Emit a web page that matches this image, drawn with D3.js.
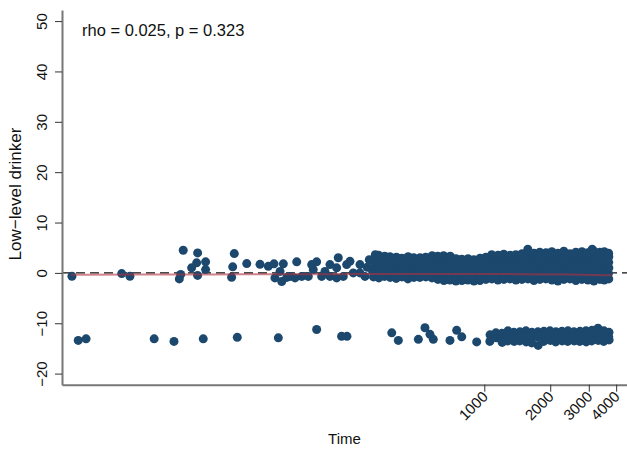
<!DOCTYPE html>
<html>
<head>
<meta charset="utf-8">
<script src="https://cdn.jsdelivr.net/npm/d3@7"></script>
<style>
  html, body { margin: 0; padding: 0; background: #fff; }
  svg { display: block; font-family: "Liberation Sans", Arial, Helvetica, sans-serif; }
</style>
</head>
<body>
<svg id="chart" width="627" height="450"></svg>
<script>
// Tick values and text
const yTicks = [-20, -10, 0, 10, 20, 30, 40, 50];
const xTicks = [1000, 2000, 3000, 4000];
const xLabel = "Time";
const yLabel = "Low\u2212level drinker";
const statsText = "rho = 0.025, p = 0.323";

// Early observations, main band [time, value]
const earlyUpper = [
  [13.1, -0.67], [22.1, -0.14], [24.1, -0.67], [40.5, -1.2], [41.1, -0.3], [42.2, 4.5],
  [46.1, 1.0], [48.6, 2.0], [49.1, 3.97], [49.1, -0.5], [53.4, 2.2], [53.4, 0.65],
  [70.2, -0.87], [71.0, 1.2], [72.2, 3.83], [82.3, 1.85], [94.6, 1.7], [103.2, 1.3],
  [109.6, 1.8], [110.7, -1.0], [116.8, 0.3], [118.9, -1.7], [120.9, 1.8], [125.3, -0.9],
  [129.7, -0.7], [136.7, -1.0], [139.2, 2.2], [146.7, -0.7], [157.2, -0.7], [162.9, 1.65],
  [165.6, 0.65], [171.6, 2.2], [180.9, -0.7], [187.3, 0.3], [197.4, 1.65], [197.4, -0.7],
  [211.8, 1.0], [211.8, -1.0], [215.4, 3.0], [227.1, -0.7], [235.3, 1.65], [243.6, 2.3],
  [252.2, 0.0], [270.6, 1.65], [270.6, 0.0], [285.3, -0.7], [292.0, 1.1], [298.5, 2.6]
];

// Later observations, main band [time, value]
const laterUpper = [
  [312, -0.8], [309, 0.3], [315, 1.4], [311, 2.6], [318, 3.6],
  [330, -1.0], [333, 0.1], [328, 1.2], [331, 2.3], [329, 3.5],
  [350, -0.7], [347, 0.4], [352, 1.5], [349, 2.5], [351, 3.3],
  [372, -0.9], [375, 0.2], [370, 1.3], [373, 2.4], [371, 3.2],
  [396, -1.1], [393, 0.0], [398, 1.1], [395, 2.2], [397, 3.1],
  [421, -0.8], [424, 0.3], [419, 1.4], [422, 2.5], [420, 2.9],
  [448, -1.2], [445, -0.1], [450, 1.0], [447, 2.1], [449, 3.2],
  [477, -0.9], [480, 0.1], [475, 1.2], [478, 2.2], [476, 3.0],
  [508, -0.9], [505, 0.2], [511, 1.3], [507, 2.3], [509, 3.0],
  [541, -0.8], [544, 0.3], [538, 1.3], [542, 2.4], [540, 3.1],
  [577, -1.0], [574, 0.1], [580, 1.2], [576, 2.3], [578, 3.4],
  [614, -1.3], [617, -0.2], [611, 0.9], [615, 2.0], [613, 3.3],
  [654, -1.5], [651, -0.4], [657, 0.7], [653, 1.8], [655, 2.8], [652, 3.4],
  [697, -1.4], [700, -0.3], [694, 0.8], [698, 1.9], [696, 3.0], [699, 3.3],
  [742, -1.6], [739, -0.5], [745, 0.6], [741, 1.7], [743, 2.8],
  [790, -1.5], [794, -0.4], [787, 0.7], [791, 1.8], [789, 2.7],
  [842, -1.4], [839, -0.3], [845, 0.8], [841, 1.8], [843, 2.8],
  [897, -1.6], [901, -0.5], [894, 0.6], [898, 1.7], [896, 2.6],
  [955, -1.5], [951, -0.4], [958, 0.7], [954, 1.8], [956, 2.9],
  [1017, -1.3], [1021, -0.2], [1013, 0.9], [1018, 2.0], [1016, 3.1],
  [1083, -1.2], [1079, -0.1], [1087, 1.0], [1082, 2.1], [1084, 3.2], [1081, 3.6],
  [1154, -1.4], [1159, -0.3], [1150, 0.8], [1155, 1.9], [1153, 3.0], [1156, 3.5],
  [1229, -1.3], [1224, -0.2], [1233, 0.9], [1228, 2.0], [1230, 3.1], [1227, 3.7],
  [1309, -1.2], [1314, -0.1], [1305, 1.0], [1310, 2.1], [1308, 3.2], [1311, 3.5],
  [1394, -1.4], [1389, -0.3], [1399, 0.8], [1393, 1.9], [1395, 3.0], [1392, 3.6],
  [1485, -1.3], [1491, -0.2], [1480, 0.9], [1486, 2.0], [1484, 3.1], [1487, 3.8],
  [1582, -1.2], [1576, -0.1], [1588, 1.0], [1581, 2.1], [1583, 3.2], [1580, 4.7],
  [1685, -1.5], [1691, -0.4], [1679, 0.7], [1686, 1.8], [1684, 2.9], [1687, 3.9],
  [1794, -1.3], [1788, -0.2], [1801, 0.9], [1793, 2.0], [1795, 3.1], [1792, 4.1],
  [1911, -1.2], [1918, -0.1], [1904, 1.0], [1912, 2.1], [1910, 3.2], [1913, 4.0],
  [2036, -1.4], [2029, -0.3], [2043, 0.8], [2035, 1.9], [2037, 3.0], [2034, 4.2],
  [2168, -1.6], [2176, -0.4], [2160, 0.7], [2169, 1.8], [2167, 2.9], [2170, 3.9],
  [2309, -1.3], [2301, -0.2], [2317, 0.9], [2308, 2.0], [2310, 3.1], [2307, 4.3],
  [2460, -1.2], [2469, -0.1], [2451, 1.0], [2461, 2.1], [2459, 3.2], [2462, 3.8],
  [2620, -1.5], [2611, -0.3], [2629, 0.8], [2619, 1.9], [2621, 3.0], [2618, 4.1],
  [2790, -1.3], [2800, -0.2], [2780, 0.9], [2791, 2.0], [2789, 3.1], [2792, 4.2],
  [2972, -1.4], [2962, -0.3], [2982, 0.8], [2971, 1.9], [2973, 3.0], [2970, 4.0],
  [3110, 4.7],
  [3166, -1.6], [3177, -0.4], [3155, 0.7], [3167, 1.8], [3165, 2.9], [3168, 4.3],
  [3372, -1.3], [3361, -0.2], [3383, 0.9], [3371, 2.0], [3373, 3.1], [3370, 4.1],
  [3530, -1.4], [3542, -0.3], [3518, 0.8], [3531, 1.9], [3529, 3.0], [3532, 4.2],
  [3700, -1.2], [3690, -0.1], [3705, 1.0], [3698, 2.1], [3702, 3.2], [3696, 3.9]
];

// Early observations, lower band [time, value]
const earlyLower = [
  [14.0, -13.4], [15.2, -13.1], [31.1, -13.1], [38.3, -13.6], [52.1, -13.1], [74.5, -12.8],
  [114.7, -12.9], [171.6, -11.25], [223, -12.6], [236, -12.6], [378, -11.9], [405, -13.4],
  [500, -13.2], [536, -10.9], [565, -12.2], [585, -13.2], [697, -13.4], [748, -11.4],
  [789, -12.7], [923, -13.7]
];

// Later observations, lower band [time, value]
const laterLower = [
  [1062, -12.3], [1060, -13.6],
  [1130, -11.9], [1133, -12.9],
  [1204, -12.0], [1200, -13.0], [1207, -13.8],
  [1282, -11.5], [1286, -12.5], [1279, -13.5],
  [1365, -11.8], [1361, -12.7], [1369, -13.6],
  [1455, -11.7], [1459, -12.6], [1451, -13.5],
  [1549, -11.5], [1544, -12.5], [1553, -13.7],
  [1650, -11.8], [1655, -12.8], [1646, -13.9],
  [1757, -11.7], [1752, -12.7], [1762, -14.4],
  [1872, -11.6], [1877, -12.6], [1867, -13.6],
  [1995, -11.5], [1989, -12.4], [2001, -13.4],
  [2124, -11.7], [2130, -12.6], [2118, -13.7],
  [2262, -11.6], [2256, -12.5], [2268, -13.5],
  [2410, -11.5], [2417, -12.6], [2403, -13.6],
  [2566, -11.7], [2559, -12.6], [2573, -13.5],
  [2735, -11.6], [2743, -12.5], [2727, -13.6],
  [2912, -11.5], [2904, -12.6], [2920, -13.7],
  [3101, -11.4], [3110, -12.5], [3092, -13.5],
  [3303, -11.0], [3294, -12.3], [3312, -13.4],
  [3518, -11.5], [3527, -12.6], [3509, -13.6],
  [3710, -11.8], [3700, -12.7], [3715, -13.3]
];

// Smoothed trend
const smoothTimes = [13, 30, 60, 100, 200, 400, 800, 1500, 2500, 3800];
const smoothValues = [-0.35, -0.33, -0.3, -0.28, -0.25, -0.22, -0.2, -0.24, -0.33, -0.48];

const svg = d3.select("#chart");
const plotLeft = 62, plotRight = 627, plotTop = 10, plotBottom = 384.7;

const x = d3.scaleLog().domain([11.8, 4483]).range([plotLeft, plotRight]);
const y = d3.scaleLinear().domain([-22.2, 52.2]).range([plotBottom, plotTop]);

// reference line at zero
svg.append("line")
  .attr("x1", plotLeft).attr("x2", plotRight)
  .attr("y1", y(0)).attr("y2", y(0))
  .attr("stroke", "#111").attr("stroke-width", 1.3)
  .attr("stroke-dasharray", "9,5");

// observations
const allPoints = [].concat(earlyUpper, laterUpper, earlyLower, laterLower);
svg.append("g")
  .selectAll("circle")
  .data(allPoints)
  .join("circle")
  .attr("cx", d => x(d[0]))
  .attr("cy", d => y(d[1]))
  .attr("r", 4.5)
  .attr("fill", "#1c486e");

// smoothed trend line
const trend = smoothTimes.map((t, i) => [t, smoothValues[i]]);
svg.append("path")
  .datum(trend)
  .attr("fill", "none")
  .attr("stroke", "#b03040")
  .attr("stroke-opacity", 0.6)
  .attr("stroke-width", 2)
  .attr("d", d3.line().x(d => x(d[0])).y(d => y(d[1])).curve(d3.curveBasis));

// axes
const fmt = d3.format("d");
const xAxis = svg.append("g")
  .attr("transform", `translate(0,${plotBottom})`)
  .call(d3.axisBottom(x).tickValues(xTicks).tickFormat(fmt).tickSize(7).tickSizeOuter(0));
xAxis.select(".domain").attr("stroke", "#777").attr("stroke-width", 2);
xAxis.selectAll(".tick line").attr("stroke", "#333");
xAxis.selectAll(".tick text")
  .attr("y", null).attr("dy", null)
  .attr("text-anchor", "end")
  .attr("transform", "translate(4,13) rotate(-45)")
  .attr("font-size", 15)
  .attr("font-family", "Liberation Sans, Arial, sans-serif")
  .attr("fill", "#111");

const yAxis = svg.append("g")
  .attr("transform", `translate(${plotLeft},0)`)
  .call(d3.axisLeft(y).tickValues(yTicks).tickFormat(fmt).tickSize(7).tickSizeOuter(0));
yAxis.select(".domain").attr("stroke", "#777").attr("stroke-width", 2);
yAxis.selectAll(".tick line").attr("stroke", "#333");
yAxis.selectAll(".tick text")
  .attr("x", null).attr("dy", null)
  .attr("text-anchor", "middle")
  .attr("transform", "translate(-15,0) rotate(-90)")
  .attr("font-size", 15)
  .attr("font-family", "Liberation Sans, Arial, sans-serif")
  .attr("fill", "#111");

// axis titles
svg.append("text")
  .attr("x", (plotLeft + plotRight) / 2).attr("y", 444)
  .attr("text-anchor", "middle")
  .attr("font-size", 15).attr("fill", "#111")
  .text(xLabel);

svg.append("text")
  .attr("transform", "translate(21,194) rotate(-90)")
  .attr("text-anchor", "middle")
  .attr("font-size", 17).attr("fill", "#111")
  .text(yLabel);

// correlation note
svg.append("text")
  .attr("x", 82).attr("y", 36)
  .attr("font-size", 16.5).attr("fill", "#111")
  .text(statsText);
</script>
</body>
</html>
